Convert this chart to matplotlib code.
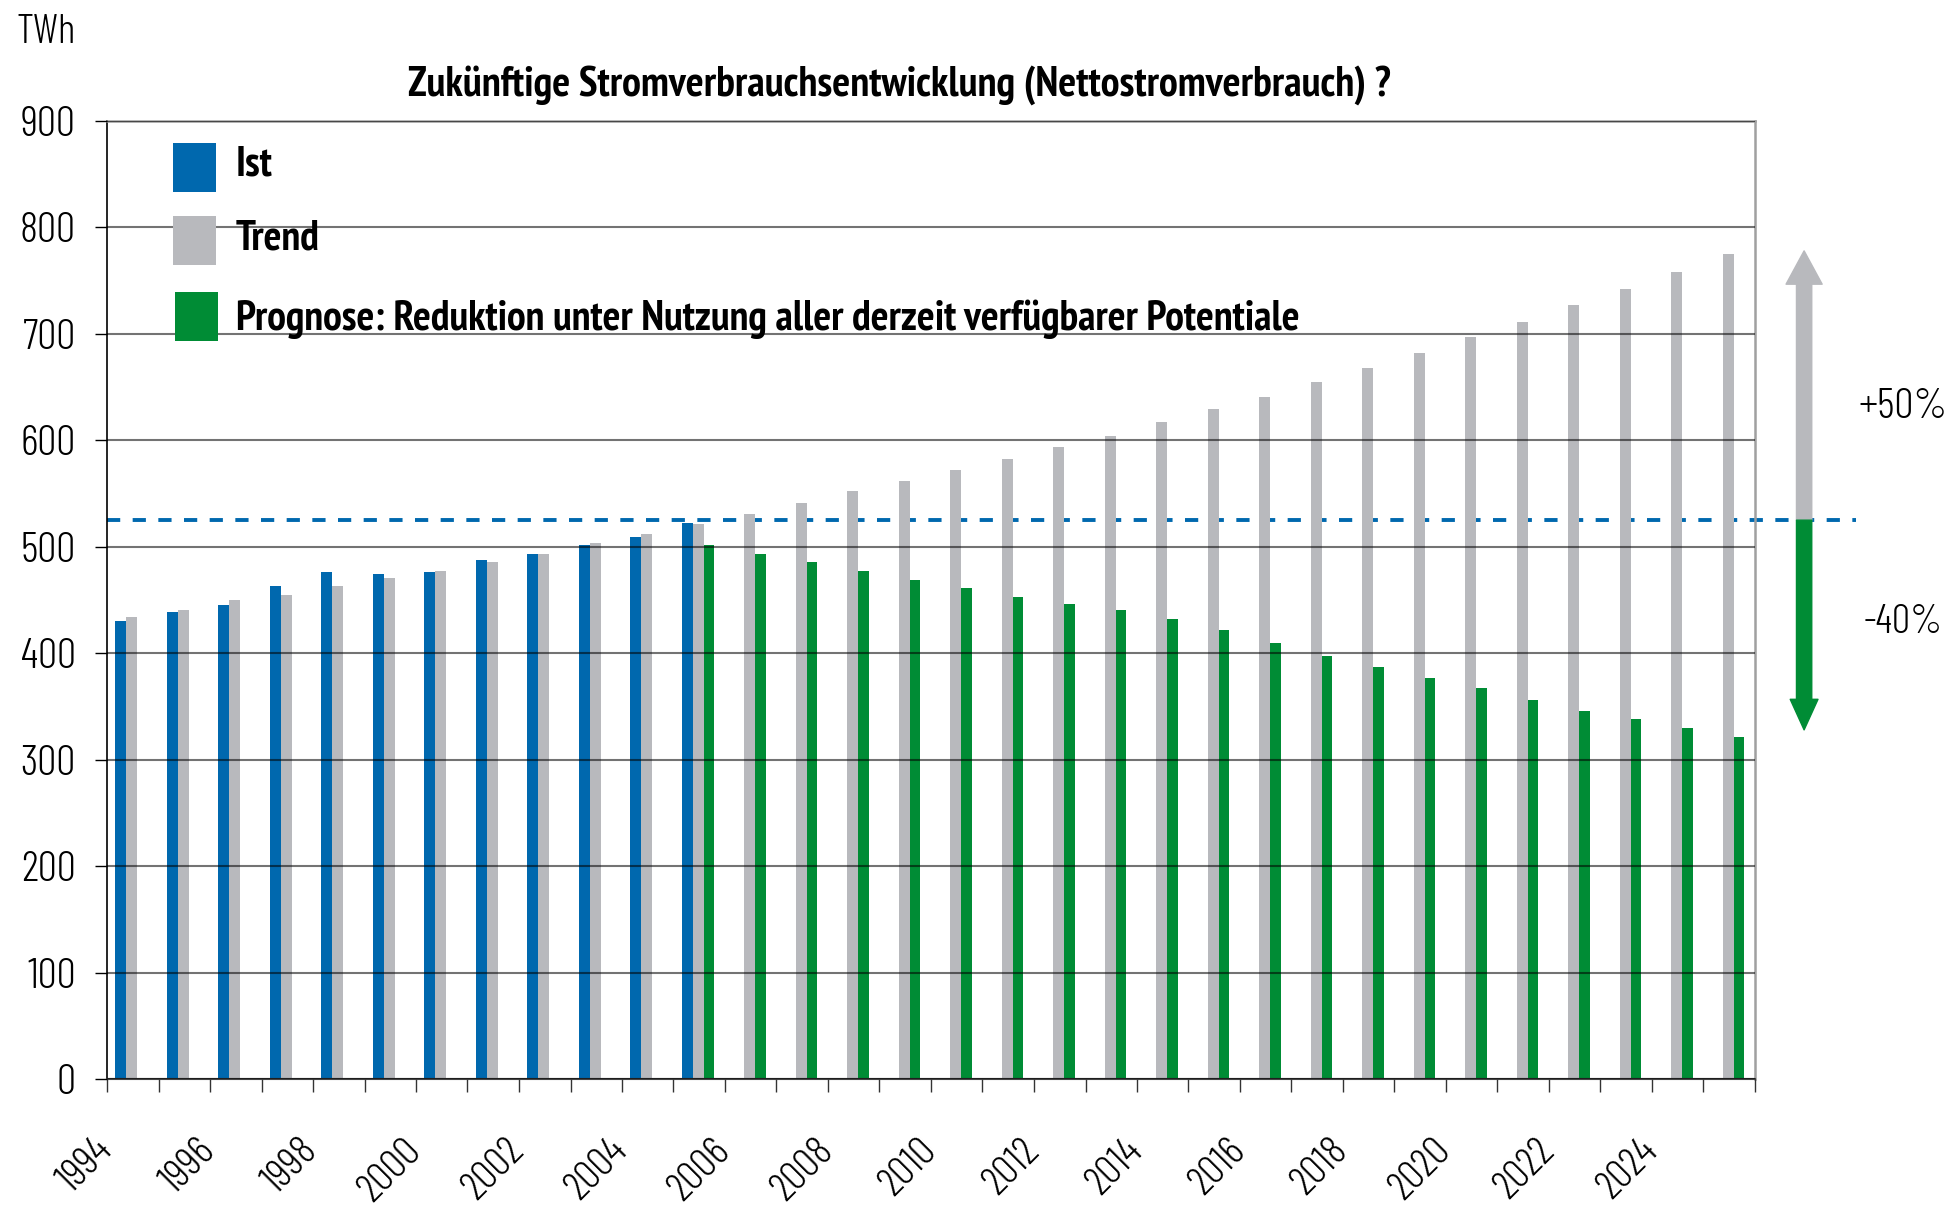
import numpy as np
import matplotlib.pyplot as plt
from matplotlib.patches import Rectangle
from matplotlib.transforms import ScaledTranslation

# Schriften: schmale Grotesk, Rückfall auf Liberation/DejaVu
leicht = ['Barlow Condensed', 'Barlow Semi Condensed', 'Encode Sans Condensed', 'Liberation Sans', 'DejaVu Sans']
fett = ['PT Sans Narrow', 'Fira Sans Condensed', 'Asap Condensed', 'Archivo Narrow',
        'Liberation Sans', 'DejaVu Sans']
plt.rcParams['font.family'] = leicht

# Daten (TWh)
jahre = list(range(1994, 2026))
ist = [430, 439, 445, 463, 476, 474, 476, 488, 493, 502, 509, 522]          # 1994-2005
trend = [434, 441, 450, 455, 463, 471, 477, 486, 493, 504, 512, 521,
         531, 541, 552, 562, 572, 582, 594, 604, 617, 629, 641, 655,
         668, 682, 697, 711, 727, 742, 758, 775]                             # 1994-2025
prognose = [502, 493, 486, 477, 469, 461, 453, 446, 441, 432, 422, 410,
            397, 387, 377, 367, 356, 346, 338, 330, 321]                     # 2005-2025
basis = 525          # Niveau 2005 (gestrichelte Linie)
plus_pct = '+50%'
minus_pct = '-40%'
legende = ['Ist', 'Trend', 'Prognose: Reduktion unter Nutzung aller derzeit verfügbarer Potentiale']
titel = 'Zukünftige Stromverbrauchsentwicklung (Nettostromverbrauch) ?'

blau = '#0068ae'
grau = '#b8b9bd'
gruen = '#008c35'

W, H = 1950, 1207
fig = plt.figure(figsize=(W / 100, H / 100), dpi=100)
ax = fig.add_axes([107 / W, 1 - 1079 / H, 1648 / W, 958 / H])
r = fig.canvas.get_renderer()


def px(x, y):
    # Pixel (von oben links) -> Figurkoordinaten
    return x / W, 1 - y / H


def fit(t, breite):
    # Schriftgröße so wählen, dass der Text die gewünschte Breite hat
    b = t.get_window_extent(r).width
    t.set_fontsize(t.get_fontsize() * breite / b)
    return t.get_fontsize()


x = np.arange(len(jahre))
w = 0.21
x_ist = x[:len(ist)]
x_prog = x[len(jahre) - len(prognose):]
ax.bar(x_ist - 0.23, ist, w, color=blau, zorder=2)
ax.bar(x - 0.02, trend, w, color=grau, zorder=2)
ax.bar(x_prog + 0.19, prognose, w, color=gruen, zorder=2)

ax.set_yticks(range(0, 901, 100))
ax.yaxis.grid(True, color='black', alpha=0.55, lw=1.5, zorder=3)
ax.set_axisbelow(False)

# Schriftgrößen aus Textbreiten ableiten
tmp = fig.text(0, 0, '900', fontsize=24, weight=300)
gr_y = fit(tmp, 55)
tmp.remove()

# x-Achse: Striche an den Gruppengrenzen, Beschriftung jedes 2. Jahr
ax.set_xticks(np.arange(-0.5, len(jahre)), labels=[])
ax.set_xticks(x[::2] - 0.44, labels=[str(j) for j in jahre[::2]], minor=True)
ax.set_xlim(-0.5, len(jahre) - 0.5)
ax.set_ylim(0, 900)
ax.tick_params(axis='x', which='major', direction='out', length=9.5, width=1, color='#333333')
ax.tick_params(axis='x', which='minor', length=0, pad=38, labelsize=gr_y * 0.97)
versatz = ScaledTranslation(-17 / 100, 0, fig.dpi_scale_trans)
for lab in ax.get_xticklabels(minor=True):
    lab.set_rotation(45)
    lab.set_ha('right')
    lab.set_va('top')
    lab.set_rotation_mode('anchor')
    lab.set_fontweight(300)
    lab.set_transform(lab.get_transform() + versatz)
ax.tick_params(axis='y', direction='out', length=8.5, width=1, pad=14, labelsize=gr_y)
for lab in ax.get_yticklabels():
    lab.set_fontweight(300)

for s in ['top', 'right']:
    ax.spines[s].set_color('#a0a0a0')
    ax.spines[s].set_linewidth(1.8)
ax.spines['left'].set_color('black')
ax.spines['left'].set_linewidth(1.2)
ax.spines['bottom'].set_color('#444444')
ax.spines['bottom'].set_linewidth(1.5)

# Basislinie 2005
ax.plot([0, 1.061], [basis, basis], transform=ax.get_yaxis_transform(), color=blau,
        lw=2.8, dashes=(3.4, 3.2), clip_on=False, zorder=1)

# Pfeile rechts
tr = ax.get_yaxis_transform()
ax.annotate('', xy=(1.0298, max(trend) + 3), xytext=(1.0298, basis), xycoords=tr, textcoords=tr,
            annotation_clip=False,
            arrowprops=dict(arrowstyle='simple,head_length=24,head_width=26,tail_width=11',
                            mutation_scale=1, color=grau, shrinkA=0, shrinkB=0))
ax.annotate('', xy=(1.0298, min(prognose) + 7), xytext=(1.0298, basis), xycoords=tr, textcoords=tr,
            annotation_clip=False,
            arrowprops=dict(arrowstyle='simple,head_length=22,head_width=20,tail_width=11',
                            mutation_scale=1, color=gruen, shrinkA=0, shrinkB=0))
t = fig.text(*px(1858, 418), plus_pct, ha='left', va='baseline', fontsize=26, weight=300)
fit(t, 89)
t = fig.text(*px(1864, 633), minus_pct, ha='left', va='baseline', fontsize=26, weight=300)
fit(t, 79)

# Legende (Kästchen + Text)
kasten = [(173, 143, blau), (173, 216, grau), (175, 292, gruen)]
grundlinie = [176, 249, 330]
tmp = fig.text(0, 0, legende[2], fontsize=26, family=fett, weight='bold')
gr_leg = fit(tmp, 1064)
tmp.remove()
for (kx, ky, farbe), gl, txt in zip(kasten, grundlinie, legende):
    fig.add_artist(Rectangle(px(kx, ky + 49), 43 / W, 49 / H, transform=fig.transFigure,
                             color=farbe, lw=0))
    fig.text(*px(236, gl), txt, ha='left', va='baseline', fontsize=gr_leg, family=fett, weight='bold')

t = fig.text(*px(899, 96), titel, ha='center', va='baseline', fontsize=26, family=fett, weight='bold')
fit(t, 982)
t = fig.text(*px(17, 43), 'TWh', ha='left', va='baseline', fontsize=26, weight=300)
fit(t, 59)

fig.savefig('out.png', dpi=100)
